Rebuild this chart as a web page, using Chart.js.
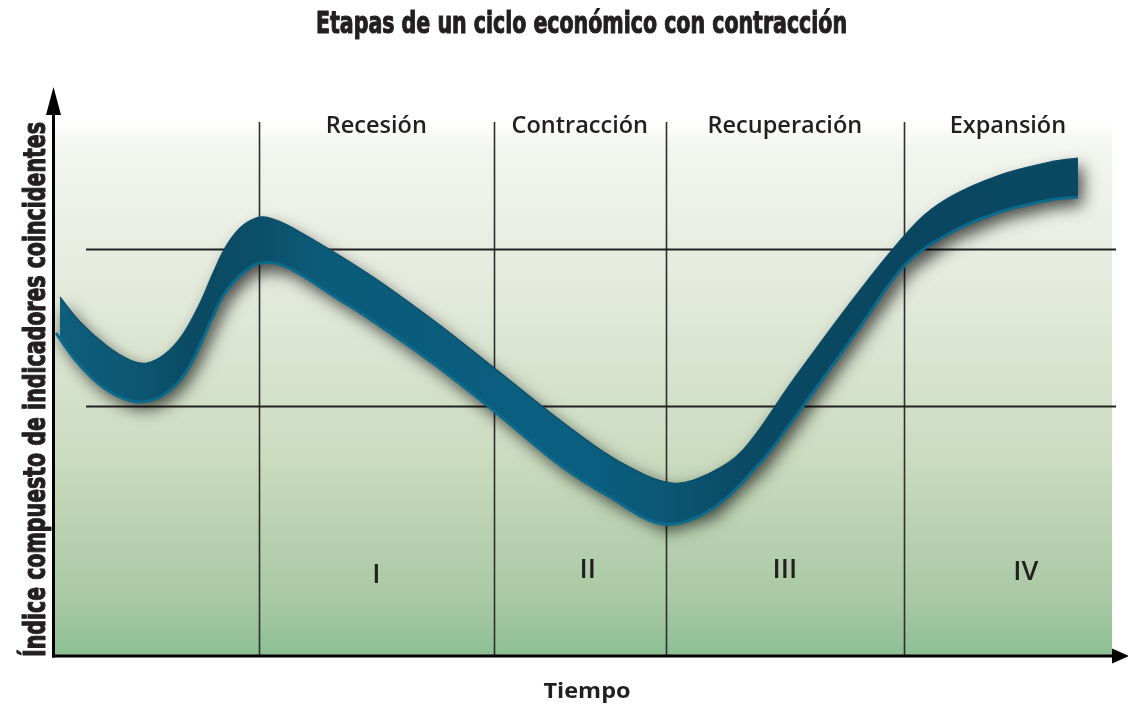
<!DOCTYPE html>
<html lang="es">
<head>
<meta charset="utf-8">
<title>Etapas de un ciclo económico con contracción</title>
<script src="https://cdn.jsdelivr.net/npm/chart.js@4/dist/chart.umd.min.js"></script>
<style>
  html, body { margin: 0; padding: 0; background: #ffffff; }
  #wrap { width: 1128px; height: 706px; position: relative; }
  canvas { display: block; }
</style>
</head>
<body>
<div id="wrap"><canvas id="c" width="1128" height="706"></canvas></div>
<script>
// ---------- DATA ----------
const chartTitle = 'Etapas de un ciclo económico con contracción';
const yAxisTitle = 'Índice compuesto de indicadores coincidentes';
const xAxisTitle = 'Tiempo';

// phases and their boundaries on the time axis (0–100)
const phaseNames = ['Recesión', 'Contracción', 'Recuperación', 'Expansión'];
const phaseNumerals = ['I', 'II', 'III', 'IV'];
const phaseBoundaries = [19.3, 41.5, 57.8, 80.3, 100];

// reference levels of the index (horizontal lines)
const referenceLevels = [75.7, 46.5];

// the ribbon: upper edge (time, index)
const timeUpper  = [0.47, 2.37, 4.92, 7.10, 8.70, 10.41, 12.11, 13.72, 14.95, 16.08, 17.50, 19.02, 20.34, 22.52, 29.52, 35.76, 41.44, 48.25, 53.45, 58.37, 61.97, 65.09, 69.82, 76.16, 81.55, 84.67, 89.40, 94.13, 96.78];
const indexUpper = [66.73, 62.08, 57.62, 55.02, 54.46, 56.13, 59.85, 65.61, 71.19, 75.84, 79.55, 81.41, 81.41, 79.55, 71.19, 62.45, 53.72, 43.12, 36.06, 32.16, 34.02, 38.29, 51.30, 68.03, 80.67, 85.32, 89.41, 91.82, 92.57];

// the ribbon: lower edge (time, index)
const timeLower  = [0.09, 1.70, 3.31, 4.92, 6.62, 8.04, 9.93, 11.83, 13.24, 14.66, 16.08, 17.79, 19.39, 21.95, 26.96, 29.52, 35.76, 41.44, 47.78, 52.51, 57.52, 61.97, 66.70, 69.82, 76.16, 80.42, 84.67, 89.40, 94.13, 96.78];
const indexLower = [60.04, 55.58, 52.04, 49.44, 47.77, 47.21, 48.14, 51.30, 55.76, 61.90, 67.47, 71.19, 73.05, 72.30, 66.17, 63.01, 54.46, 45.73, 35.50, 29.55, 24.54, 27.14, 35.87, 43.87, 61.15, 72.68, 78.62, 82.53, 84.76, 85.32];

// ---------- CHART ----------
const upperPts = timeUpper.map((t, i) => ({ x: t, y: indexUpper[i] }));
const lowerPts = timeLower.map((t, i) => ({ x: t, y: indexLower[i] }));

function ribbonFill(context) {
  const chart = context.chart;
  const ca = chart.chartArea;
  if (!ca) return '#0b5570';
  const g = chart.ctx.createLinearGradient(ca.left, 0, ca.right, 0);
  g.addColorStop(0.00, '#0e5f7d');
  g.addColorStop(0.08, '#0c5673');
  g.addColorStop(0.13, '#0a4a62');
  g.addColorStop(0.19, '#0b4e67');
  g.addColorStop(0.25, '#0b5b7a');
  g.addColorStop(0.50, '#0a5f80');
  g.addColorStop(0.57, '#0b5876');
  g.addColorStop(0.65, '#0a4a64');
  g.addColorStop(0.80, '#0a465f');
  g.addColorStop(1.00, '#0b4962');
  return g;
}

const textColor = '#231f20';

function fitText(ctx, text, x, y, font, width, rotate, stroke) {
  ctx.save();
  ctx.font = font;
  const w = ctx.measureText(text).width;
  ctx.translate(x, y);
  if (rotate) ctx.rotate(-Math.PI / 2);
  ctx.scale(width / w, 1);
  ctx.textAlign = 'center';
  ctx.textBaseline = 'alphabetic';
  ctx.fillStyle = textColor;
  ctx.fillText(text, 0, 0);
  if (stroke) {
    ctx.strokeStyle = textColor;
    ctx.lineWidth = stroke;
    ctx.lineJoin = 'round';
    ctx.strokeText(text, 0, 0);
  }
  ctx.restore();
}

const decorPlugin = {
  id: 'decor',
  beforeDraw(chart) {
    const ctx = chart.ctx;
    const ca = chart.chartArea;
    const xs = chart.scales.x, ys = chart.scales.y;
    // background gradient
    ctx.save();
    const g = ctx.createLinearGradient(0, ca.top, 0, ca.bottom);
    g.addColorStop(0.00, '#ffffff');
    g.addColorStop(0.06, '#f3f5f0');
    g.addColorStop(0.34, '#e2e9da');
    g.addColorStop(0.62, '#ccdcc0');
    g.addColorStop(0.90, '#a8c8a3');
    g.addColorStop(1.00, '#8cbf94');
    ctx.fillStyle = g;
    ctx.fillRect(ca.left, ca.top, ca.right - ca.left, ca.bottom - ca.top);

    // phase boundaries (vertical)
    ctx.strokeStyle = '#2e2e2e';
    ctx.lineWidth = 1.6;
    for (let i = 0; i < phaseBoundaries.length - 1; i++) {
      const px = Math.round(xs.getPixelForValue(phaseBoundaries[i])) + 0.5;
      ctx.beginPath();
      ctx.moveTo(px, ca.top + 4);
      ctx.lineTo(px, ca.bottom);
      ctx.stroke();
    }
    // reference levels (horizontal)
    ctx.strokeStyle = '#222';
    ctx.lineWidth = 1.8;
    for (const lv of referenceLevels) {
      const py = Math.round(ys.getPixelForValue(lv)) + 0.5;
      ctx.beginPath();
      ctx.moveTo(ca.left + 31, py);
      ctx.lineTo(ca.right + 4, py);
      ctx.stroke();
    }

    // ribbon drop shadow (shape drawn off-canvas, only its shadow shows)
    const up = chart.getDatasetMeta(1).data;
    const lo = chart.getDatasetMeta(0).data;
    const off = 4000;
    ctx.shadowColor = 'rgba(0,0,0,0.68)';
    ctx.shadowBlur = 16;
    ctx.shadowOffsetX = off + 5;
    ctx.shadowOffsetY = 8;
    ctx.fillStyle = '#000';
    ctx.beginPath();
    up.forEach((p, i) => { if (i === 0) ctx.moveTo(p.x - off, p.y); else ctx.lineTo(p.x - off, p.y); });
    for (let i = lo.length - 1; i >= 0; i--) ctx.lineTo(lo[i].x - off, lo[i].y);
    ctx.closePath();
    ctx.fill();
    ctx.restore();
  },
  afterDraw(chart) {
    const ctx = chart.ctx;
    const ca = chart.chartArea;
    const xs = chart.scales.x;
    ctx.save();
    // axes with arrows
    ctx.strokeStyle = '#000';
    ctx.fillStyle = '#000';
    ctx.lineWidth = 3;
    const ax = ca.left - 1.5;
    ctx.beginPath();
    ctx.moveTo(ax, ca.bottom + 1.5);
    ctx.lineTo(ax, ca.top - 5);
    ctx.stroke();
    ctx.beginPath();
    ctx.moveTo(ax, ca.top - 31);
    ctx.lineTo(ax - 7.5, ca.top - 3);
    ctx.lineTo(ax + 7.5, ca.top - 3);
    ctx.closePath();
    ctx.fill();
    ctx.beginPath();
    ctx.moveTo(ax - 1.5, ca.bottom);
    ctx.lineTo(ca.right + 2, ca.bottom);
    ctx.stroke();
    ctx.beginPath();
    ctx.moveTo(ca.right + 17, ca.bottom);
    ctx.lineTo(ca.right, ca.bottom - 7.5);
    ctx.lineTo(ca.right, ca.bottom + 7.5);
    ctx.closePath();
    ctx.fill();

    // titles
    const condensed = 'bold 31px "Liberation Sans Narrow", "DejaVu Sans Condensed", "DejaVu Sans", sans-serif';
    fitText(ctx, chartTitle, 581.5, 33, condensed, 531, false, 1.1);
    fitText(ctx, yAxisTitle, 45, 389.5, condensed, 535, true, 1.1);
    fitText(ctx, xAxisTitle, 587, 698, 'bold 21px "Open Sans", sans-serif', 87, false, 0);

    // phase names and numerals
    const numeralShift = [0, 8, 0, 18];
    const numeralBase = [583, 578, 578, 580];
    ctx.fillStyle = textColor;
    ctx.textAlign = 'center';
    ctx.textBaseline = 'alphabetic';
    for (let i = 0; i < phaseNames.length; i++) {
      const cx = (xs.getPixelForValue(phaseBoundaries[i]) + xs.getPixelForValue(phaseBoundaries[i + 1])) / 2;
      ctx.font = '600 23.5px "Open Sans", sans-serif';
      ctx.fillText(phaseNames[i], cx, 133);
      ctx.font = '600 27px "Open Sans", sans-serif';
      ctx.fillText(phaseNumerals[i], cx + numeralShift[i], numeralBase[i]);
    }
    ctx.restore();
  }
};

new Chart(document.getElementById('c'), {
  type: 'line',
  data: {
    datasets: [
      {
        label: 'borde inferior',
        data: lowerPts,
        borderColor: '#0c6a8d',
        borderWidth: 3,
        pointRadius: 0,
        fill: false,
        tension: 0.35
      },
      {
        label: 'borde superior',
        data: upperPts,
        borderColor: '#0b4d66',
        borderWidth: 1.2,
        pointRadius: 0,
        fill: '-1',
        backgroundColor: ribbonFill,
        tension: 0.35
      }
    ]
  },
  options: {
    responsive: false,
    animation: false,
    devicePixelRatio: 1,
    layout: { padding: { left: 55, right: 16, top: 118, bottom: 50 } },
    scales: {
      x: { type: 'linear', min: 0, max: 100, display: false },
      y: { type: 'linear', min: 0, max: 100, display: false }
    },
    plugins: {
      legend: { display: false },
      title: { display: false },
      tooltip: { enabled: false },
      filler: { drawTime: 'beforeDatasetsDraw' }
    },
    events: []
  },
  plugins: [decorPlugin]
});
</script>
</body>
</html>
